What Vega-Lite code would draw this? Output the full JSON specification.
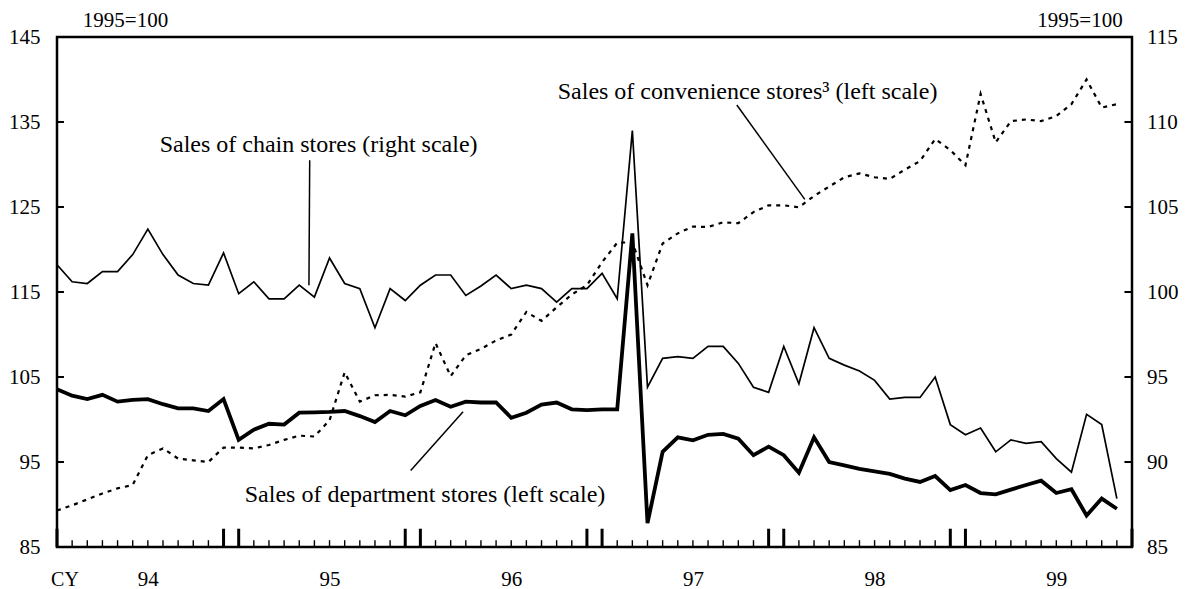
{
  "$schema": "https://vega.github.io/schema/vega-lite/v6.json",
  "width": 1075,
  "height": 510,
  "autosize": {"type": "none"},
  "padding": {"left": 57, "top": 37, "right": 60, "bottom": 42},
  "background": "white",
  "config": {
    "font": "Liberation Serif",
    "view": {"stroke": "black", "strokeWidth": 2.5},
    "axis": {
      "labelFont": "Liberation Serif",
      "titleFont": "Liberation Serif",
      "labelColor": "black",
      "titleColor": "black",
      "grid": false,
      "domainColor": "black",
      "domainWidth": 2.5,
      "tickColor": "black",
      "labelFontSize": 21,
      "titleFontSize": 21,
      "titleFontWeight": "normal"
    }
  },
  "datasets": {
    "sales": [
      {"k": 0, "dept": 103.55, "chain": 101.6, "conv": 89.3},
      {"k": 1, "dept": 102.8, "chain": 100.6, "conv": 89.9},
      {"k": 2, "dept": 102.4, "chain": 100.5, "conv": 90.6},
      {"k": 3, "dept": 102.9, "chain": 101.2, "conv": 91.3},
      {"k": 4, "dept": 102.1, "chain": 101.2, "conv": 91.9},
      {"k": 5, "dept": 102.3, "chain": 102.2, "conv": 92.3},
      {"k": 6, "dept": 102.4, "chain": 103.7, "conv": 95.8},
      {"k": 7, "dept": 101.8, "chain": 102.2, "conv": 96.6},
      {"k": 8, "dept": 101.3, "chain": 101.0, "conv": 95.4},
      {"k": 9, "dept": 101.3, "chain": 100.5, "conv": 95.2},
      {"k": 10, "dept": 101.0, "chain": 100.4, "conv": 95.0},
      {"k": 11, "dept": 102.4, "chain": 102.3, "conv": 96.7},
      {"k": 12, "dept": 97.6, "chain": 99.9, "conv": 96.7},
      {"k": 13, "dept": 98.8, "chain": 100.6, "conv": 96.6},
      {"k": 14, "dept": 99.5, "chain": 99.6, "conv": 97.0},
      {"k": 15, "dept": 99.4, "chain": 99.6, "conv": 97.6},
      {"k": 16, "dept": 100.8, "chain": 100.4, "conv": 98.1},
      {"k": 17, "dept": 100.85, "chain": 99.7, "conv": 98.0},
      {"k": 18, "dept": 100.9, "chain": 102.0, "conv": 99.9},
      {"k": 19, "dept": 101.0, "chain": 100.5, "conv": 105.55},
      {"k": 20, "dept": 100.4, "chain": 100.2, "conv": 102.1},
      {"k": 21, "dept": 99.7, "chain": 97.9, "conv": 102.85},
      {"k": 22, "dept": 101.0, "chain": 100.2, "conv": 102.9},
      {"k": 23, "dept": 100.5, "chain": 99.5, "conv": 102.7},
      {"k": 24, "dept": 101.6, "chain": 100.4, "conv": 103.2},
      {"k": 25, "dept": 102.3, "chain": 101.0, "conv": 109.0},
      {"k": 26, "dept": 101.5, "chain": 101.0, "conv": 105.1},
      {"k": 27, "dept": 102.1, "chain": 99.8, "conv": 107.55},
      {"k": 28, "dept": 102.0, "chain": 100.35, "conv": 108.3},
      {"k": 29, "dept": 102.0, "chain": 101.0, "conv": 109.3},
      {"k": 30, "dept": 100.2, "chain": 100.2, "conv": 110.0},
      {"k": 31, "dept": 100.8, "chain": 100.4, "conv": 112.65},
      {"k": 32, "dept": 101.75, "chain": 100.2, "conv": 111.6},
      {"k": 33, "dept": 102.0, "chain": 99.4, "conv": 113.2},
      {"k": 34, "dept": 101.2, "chain": 100.2, "conv": 114.7},
      {"k": 35, "dept": 101.1, "chain": 100.2, "conv": 115.8},
      {"k": 36, "dept": 101.2, "chain": 101.1, "conv": 118.5},
      {"k": 37, "dept": 101.2, "chain": 99.6, "conv": 120.8},
      {"k": 38, "dept": 121.9, "chain": 109.5, "conv": 120.85},
      {"k": 39, "dept": 87.8, "chain": 94.4, "conv": 115.8},
      {"k": 40, "dept": 96.2, "chain": 96.1, "conv": 120.7},
      {"k": 41, "dept": 97.9, "chain": 96.2, "conv": 121.9},
      {"k": 42, "dept": 97.55, "chain": 96.1, "conv": 122.7},
      {"k": 43, "dept": 98.2, "chain": 96.8, "conv": 122.65},
      {"k": 44, "dept": 98.3, "chain": 96.8, "conv": 123.2},
      {"k": 45, "dept": 97.75, "chain": 95.8, "conv": 123.1},
      {"k": 46, "dept": 95.8, "chain": 94.4, "conv": 124.4},
      {"k": 47, "dept": 96.8, "chain": 94.1, "conv": 125.2},
      {"k": 48, "dept": 95.8, "chain": 96.8, "conv": 125.2},
      {"k": 49, "dept": 93.75, "chain": 94.6, "conv": 124.96},
      {"k": 50, "dept": 97.9, "chain": 97.9, "conv": 126.3},
      {"k": 51, "dept": 95.0, "chain": 96.1, "conv": 127.4},
      {"k": 52, "dept": 94.6, "chain": 95.7, "conv": 128.5},
      {"k": 53, "dept": 94.2, "chain": 95.35, "conv": 128.96},
      {"k": 54, "dept": 93.9, "chain": 94.8, "conv": 128.5},
      {"k": 55, "dept": 93.6, "chain": 93.7, "conv": 128.3},
      {"k": 56, "dept": 93.05, "chain": 93.8, "conv": 129.4},
      {"k": 57, "dept": 92.65, "chain": 93.8, "conv": 130.4},
      {"k": 58, "dept": 93.35, "chain": 95.0, "conv": 133.0},
      {"k": 59, "dept": 91.7, "chain": 92.2, "conv": 131.7},
      {"k": 60, "dept": 92.3, "chain": 91.6, "conv": 129.9},
      {"k": 61, "dept": 91.35, "chain": 92.0, "conv": 138.3},
      {"k": 62, "dept": 91.2, "chain": 90.6, "conv": 132.6},
      {"k": 63, "dept": 91.75, "chain": 91.3, "conv": 135.1},
      {"k": 64, "dept": 92.3, "chain": 91.1, "conv": 135.3},
      {"k": 65, "dept": 92.8, "chain": 91.2, "conv": 135.1},
      {"k": 66, "dept": 91.35, "chain": 90.2, "conv": 135.7},
      {"k": 67, "dept": 91.8, "chain": 89.4, "conv": 137.1},
      {"k": 68, "dept": 88.7, "chain": 92.8, "conv": 140.0},
      {"k": 69, "dept": 90.7, "chain": 92.2, "conv": 136.7},
      {"k": 70, "dept": 89.5, "chain": 87.85, "conv": 137.1}
    ],
    "majorTicks": [
      {"k": 0}, {"k": 11}, {"k": 12}, {"k": 23}, {"k": 24}, {"k": 35}, {"k": 36},
      {"k": 47}, {"k": 48}, {"k": 59}, {"k": 60}, {"k": 71}
    ],
    "minorTicks": [
      {"k": 1}, {"k": 2}, {"k": 3}, {"k": 4}, {"k": 5}, {"k": 6}, {"k": 7}, {"k": 8}, {"k": 9}, {"k": 10},
      {"k": 13}, {"k": 14}, {"k": 15}, {"k": 16}, {"k": 17}, {"k": 18}, {"k": 19}, {"k": 20}, {"k": 21}, {"k": 22},
      {"k": 25}, {"k": 26}, {"k": 27}, {"k": 28}, {"k": 29}, {"k": 30}, {"k": 31}, {"k": 32}, {"k": 33}, {"k": 34},
      {"k": 37}, {"k": 38}, {"k": 39}, {"k": 40}, {"k": 41}, {"k": 42}, {"k": 43}, {"k": 44}, {"k": 45}, {"k": 46},
      {"k": 49}, {"k": 50}, {"k": 51}, {"k": 52}, {"k": 53}, {"k": 54}, {"k": 55}, {"k": 56}, {"k": 57}, {"k": 58},
      {"k": 61}, {"k": 62}, {"k": 63}, {"k": 64}, {"k": 65}, {"k": 66}, {"k": 67}, {"k": 68}, {"k": 69}, {"k": 70}
    ],
    "leftTicks": [{"v": 95}, {"v": 105}, {"v": 115}, {"v": 125}, {"v": 135}],
    "rightTicks": [{"v": 90}, {"v": 95}, {"v": 100}, {"v": 105}, {"v": 110}],
    "labels": [
      {"text": "Sales of chain stores (right scale)", "x": 6.78, "y": 131.5},
      {"text": "Sales of convenience stores³ (left scale)", "x": 33.07, "y": 137.7},
      {"text": "Sales of department stores (left scale)", "x": 12.4, "y": 90.3}
    ],
    "leaders": [
      {"x1": 16.69, "y1": 130.5, "x2": 16.64, "y2": 115.8},
      {"x1": 44.9, "y1": 137.0, "x2": 49.39, "y2": 125.9},
      {"x1": 26.82, "y1": 100.9, "x2": 23.36, "y2": 94.0}
    ]
  },
  "layer": [
    {
      "data": {"name": "sales"},
      "mark": {"type": "line", "color": "black", "strokeWidth": 2.2, "strokeDash": [4, 5]},
      "encoding": {
        "x": {
          "field": "k", "type": "quantitative",
          "scale": {"domain": [0, 71], "nice": false, "zero": false},
          "axis": {
            "title": "CY",
            "values": [6, 18, 30, 42, 54, 66],
            "labelExpr": "'' + (94 + floor(datum.value / 12))",
            "ticks": false,
            "tickSize": 0,
            "labelFlush": false,
            "labelBaseline": "alphabetic",
            "labelPadding": 38,
            "domain": false,
            "titleX": 7.5,
            "titleY": 38.3,
            "titleAlign": "center",
            "titleBaseline": "alphabetic",
            "titleFontSize": 20
          }
        },
        "y": {
          "field": "conv", "type": "quantitative",
          "scale": {"domain": [85, 145], "nice": false, "zero": false},
          "axis": {
            "orient": "left",
            "values": [85, 95, 105, 115, 125, 135, 145],
            "ticks": false,
            "tickSize": 0,
            "labelPadding": 17,
            "domain": false,
            "title": "1995=100",
            "titleAngle": 0,
            "titleX": 68,
            "titleY": -10.7,
            "titleAlign": "center",
            "titleBaseline": "alphabetic"
          }
        }
      }
    },
    {
      "data": {"name": "sales"},
      "mark": {"type": "line", "color": "black", "strokeWidth": 3.8, "strokeJoin": "miter"},
      "encoding": {
        "x": {"field": "k", "type": "quantitative", "scale": {"domain": [0, 71], "nice": false, "zero": false}},
        "y": {"field": "dept", "type": "quantitative", "axis": null, "scale": {"domain": [85, 145], "nice": false, "zero": false}}
      }
    },
    {
      "data": {"name": "minorTicks"},
      "mark": {"type": "rule", "color": "black", "strokeWidth": 1.4},
      "encoding": {
        "x": {"field": "k", "type": "quantitative", "scale": {"domain": [0, 71], "nice": false, "zero": false}},
        "y": {"datum": 85, "type": "quantitative", "axis": null, "scale": {"domain": [85, 145], "nice": false, "zero": false}},
        "y2": {"datum": 85.8}
      }
    },
    {
      "data": {"name": "majorTicks"},
      "mark": {"type": "rule", "color": "black", "strokeWidth": 3},
      "encoding": {
        "x": {"field": "k", "type": "quantitative", "scale": {"domain": [0, 71], "nice": false, "zero": false}},
        "y": {"datum": 85, "type": "quantitative", "axis": null, "scale": {"domain": [85, 145], "nice": false, "zero": false}},
        "y2": {"datum": 87.15}
      }
    },
    {
      "data": {"name": "leftTicks"},
      "mark": {"type": "rule", "color": "black", "strokeWidth": 2},
      "encoding": {
        "x": {"datum": 0, "type": "quantitative", "scale": {"domain": [0, 71], "nice": false, "zero": false}},
        "x2": {"datum": 0.46},
        "y": {"field": "v", "type": "quantitative", "axis": null, "scale": {"domain": [85, 145], "nice": false, "zero": false}}
      }
    },
    {
      "data": {"name": "leaders"},
      "mark": {"type": "rule", "color": "black", "strokeWidth": 1.5},
      "encoding": {
        "x": {"field": "x1", "type": "quantitative", "scale": {"domain": [0, 71], "nice": false, "zero": false}},
        "x2": {"field": "x2"},
        "y": {"field": "y1", "type": "quantitative", "axis": null, "scale": {"domain": [85, 145], "nice": false, "zero": false}},
        "y2": {"field": "y2"}
      }
    },
    {
      "data": {"name": "labels"},
      "mark": {"type": "text", "color": "black", "font": "Liberation Serif", "fontSize": 24, "align": "left", "baseline": "alphabetic"},
      "encoding": {
        "x": {"field": "x", "type": "quantitative", "scale": {"domain": [0, 71], "nice": false, "zero": false}},
        "y": {"field": "y", "type": "quantitative", "axis": null, "scale": {"domain": [85, 145], "nice": false, "zero": false}},
        "text": {"field": "text"}
      }
    },
    {
      "data": {"name": "rightTicks"},
      "mark": {"type": "rule", "color": "black", "strokeWidth": 2},
      "encoding": {
        "x": {"datum": 70.5, "type": "quantitative", "scale": {"domain": [0, 71], "nice": false, "zero": false}},
        "x2": {"datum": 71},
        "y": {"field": "v", "type": "quantitative", "axis": null, "scale": {"domain": [85, 115], "nice": false, "zero": false}}
      }
    },
    {
      "data": {"name": "sales"},
      "mark": {"type": "line", "color": "black", "strokeWidth": 1.7},
      "encoding": {
        "x": {"field": "k", "type": "quantitative", "scale": {"domain": [0, 71], "nice": false, "zero": false}},
        "y": {
          "field": "chain", "type": "quantitative",
          "scale": {"domain": [85, 115], "nice": false, "zero": false},
          "axis": {
            "orient": "right",
            "values": [85, 90, 95, 100, 105, 110, 115],
            "ticks": false,
            "tickSize": 0,
            "labelPadding": 14.5,
            "domain": false,
            "title": "1995=100",
            "titleAngle": 0,
            "titleX": -52.5,
            "titleY": -10.7,
            "titleAlign": "center",
            "titleBaseline": "alphabetic"
          }
        }
      }
    }
  ],
  "resolve": {"scale": {"y": "independent"}}
}
